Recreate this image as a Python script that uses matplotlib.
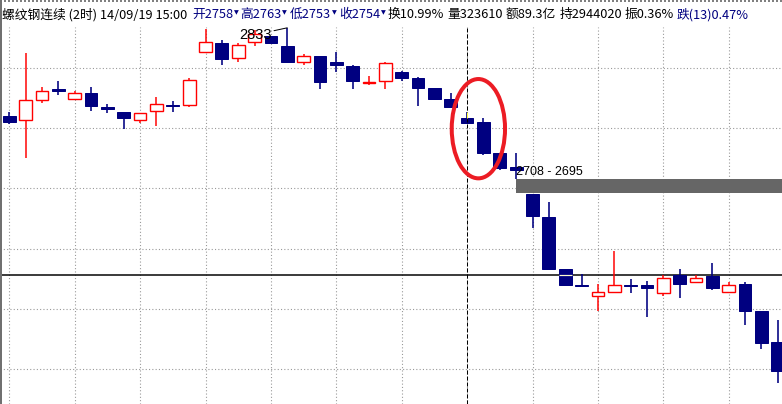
#!/usr/bin/env python3
"""
螺纹钢连续 2h candles, cursor on the 14/09/19 15:00 bar, unfilled gap band
"""
import matplotlib
matplotlib.use("Agg")
import matplotlib.pyplot as plt
from matplotlib.lines import Line2D
from matplotlib.patches import Rectangle, Ellipse

# OHLC of each 2h bar
opens = [2760, 2757, 2773, 2782, 2774, 2779, 2767, 2763, 2757, 2764, 2769, 2769,
         2813, 2820, 2808, 2821, 2826, 2818, 2805, 2810, 2805, 2801, 2787, 2789,
         2796, 2791, 2783, 2774, 2758, 2755, 2729, 2718, 2695, 2676, 2633, 2620,
         2611, 2614, 2620, 2620, 2613, 2628, 2622, 2627, 2614, 2621, 2598, 2573]
highs = [2763, 2812, 2784, 2789, 2781, 2784, 2770, 2763, 2762, 2776, 2772, 2791,
         2832, 2823, 2820, 2831, 2826, 2833, 2811, 2810, 2813, 2802, 2793, 2805,
         2797, 2792, 2783, 2779, 2763, 2758, 2729, 2729, 2695, 2689, 2633, 2629,
         2621, 2648, 2625, 2623, 2628, 2633, 2628, 2638, 2622, 2622, 2598, 2591]
lows = [2753, 2725, 2771, 2777, 2773, 2764, 2762, 2749, 2754, 2752, 2763, 2767,
        2813, 2802, 2805, 2818, 2820, 2804, 2802, 2782, 2796, 2782, 2786, 2782,
        2789, 2768, 2773, 2767, 2753, 2728, 2715, 2708, 2667, 2632, 2620, 2619,
        2598, 2614, 2613, 2593, 2611, 2609, 2622, 2616, 2614, 2587, 2567, 2539]
closes = [2755, 2773, 2781, 2781, 2779, 2768, 2766, 2758, 2762, 2770, 2768, 2790,
          2821, 2807, 2819, 2828, 2820, 2805, 2810, 2788, 2802, 2789, 2788, 2804,
          2791, 2783, 2774, 2767, 2754, 2729, 2717, 2715, 2677, 2633, 2620, 2619,
          2614, 2620, 2619, 2617, 2626, 2621, 2626, 2617, 2620, 2598, 2572, 2549]

price_grid = [2550, 2600, 2650, 2700, 2750, 2800]
ref_price = 2628
cursor_bar = 28
gap_bar = 31          # gap opens between this bar and the next one
symbol = "螺纹钢连续 (2时) 14/09/19 15:00"
turnover = "10.99%"
volume = "323610"
amount = "89.3亿"
open_int = "2944020"

NAVY = "#000080"
RED = "#ff0000"
GRID = "#999999"

W, H = 782, 404
TOP = 27              # px taken by the info line
STEP = 16.35          # px between bars
X0 = 9.3              # px of bar 0
PPU = 1.2067          # px per price point
Y2700 = 188.3         # px of the 2700 grid line

fig = plt.figure(figsize=(W / 100, H / 100), dpi=100)
ax = fig.add_axes([0, 0, 1, (H - TOP) / H])
ax.set_xlim(-X0 / STEP, (W - X0) / STEP)
ytop = 2700 + (Y2700 - TOP) / PPU
ax.set_ylim(ytop - (H - TOP) / PPU, ytop)
ax.axis("off")

px = 0.72  # one pixel in points

# dotted grid every 4 bars / 50 points
for i in range(0, len(opens), 4):
    ax.axvline(i, color=GRID, lw=1.1 * px, ls=(0, (1, 2)), zorder=0)
for p in price_grid:
    ax.axhline(p, color=GRID, lw=1.1 * px, ls=(0, (1, 2)), zorder=0)

ax.axhline(ref_price, color="black", lw=1.5 * px, zorder=1)

bw = 0.78
for i, (o, h, l, c) in enumerate(zip(opens, highs, lows, closes)):
    if c >= o:
        lo, hi = o, c
        if h > hi:
            ax.vlines(i, hi, h, color=RED, lw=1.5 * px, zorder=2)
        if l < lo:
            ax.vlines(i, l, lo, color=RED, lw=1.5 * px, zorder=2)
        ax.add_patch(Rectangle((i - bw / 2, lo), bw, max(hi - lo, 0.3),
                               facecolor="white", edgecolor=RED, lw=1.4 * px, zorder=3))
    else:
        ax.vlines(i, l, h, color=NAVY, lw=1.6 * px, zorder=2)
        ax.add_patch(Rectangle((i - bw / 2, c), bw, o - c,
                               facecolor=NAVY, edgecolor=NAVY, lw=1.0 * px, zorder=3))
        if c < ref_price < o:
            # the reference line shows up light where it crosses a filled body
            ax.hlines(ref_price, i - bw / 2, i + bw / 2, color="#fffbd0", lw=1.2 * px, zorder=4)

# unfilled gap band
g_top = lows[gap_bar]
g_bot = highs[gap_bar + 1]
ax.add_patch(Rectangle((gap_bar, g_bot + 1.2), ax.get_xlim()[1] - gap_bar, g_top - g_bot - 1.5,
                       facecolor="#666666", edgecolor="none", zorder=2))
ax.annotate(f"{g_top} - {g_bot}", xy=(gap_bar, g_top), xytext=(0, 4), textcoords="offset pixels",
            ha="left", va="baseline", fontsize=9, family="Liberation Sans", zorder=6)

# highest high marker
hi_bar = max(range(len(highs)), key=lambda k: highs[k])
ax.annotate(f"{highs[hi_bar]}", xy=(hi_bar, highs[hi_bar]), xytext=(-16, -7), textcoords="offset pixels",
            ha="right", va="center", fontsize=10.5, family="Liberation Sans", zorder=6,
            arrowprops=dict(arrowstyle="-", color="black", lw=px, shrinkA=0, shrinkB=0))

# cursor
ax.axvline(cursor_bar, color="black", lw=px, ls=(0, (4, 2)), zorder=5)
cb_top = max(opens[cursor_bar], closes[cursor_bar])
ax.vlines(cursor_bar, cb_top, highs[cursor_bar], color="#ffff40", lw=px, zorder=6)

# hand-drawn red ring round the cursor bar and the next one
ax.add_patch(Ellipse((cursor_bar + 0.69, 2749.4), 3.26, 82.3, fill=False,
                     edgecolor="#ec1c24", lw=4 * px, zorder=7))

# info line
prev_c = closes[cursor_bar - 1]
chg = closes[cursor_bar] - prev_c
amp = (highs[cursor_bar] - lows[cursor_bar]) / prev_c * 100
pieces = [
    (symbol, "black", False),
    (f"开{opens[cursor_bar]}", NAVY, True),
    (f"高{highs[cursor_bar]}", NAVY, True),
    (f"低{lows[cursor_bar]}", NAVY, True),
    (f"收{closes[cursor_bar]}", NAVY, True),
    (f"换{turnover}", "black", False),
    (f"量{volume}", "black", False),
    (f"额{amount}", "black", False),
    (f"持{open_int}", "black", False),
    (f"振{amp:.2f}%", "black", False),
    (f"{'跌' if chg < 0 else '涨'}({abs(chg)}){abs(chg) / prev_c * 100:.2f}%", NAVY, False),
]
piece_x = [2, 192.7, 240.7, 290, 339, 388, 447.7, 506, 559.3, 625, 676.7]
fonts = ["Noto Sans CJK SC", "DejaVu Sans"]
renderer = fig.canvas.get_renderer()
ty = 1 - 14.5 / H
for (txt, col, mark), x in zip(pieces, piece_x):
    t = fig.text(x / W, ty, txt, color=col, fontsize=9.2, family=fonts, ha="left", va="center")
    if mark:
        xe = x + t.get_window_extent(renderer).width
        fig.text((xe + 0.5) / W, ty + 1.5 / H, "▼", color=NAVY, fontsize=4.5,
                 family="DejaVu Sans", ha="left", va="center")

# window frame
fig.add_artist(Line2D([0, 1], [1 - 1 / H] * 2, transform=fig.transFigure,
                      color="#808080", lw=2 * px, ls=(0, (1, 1))))
fig.add_artist(Line2D([1 / W] * 2, [0, 1], transform=fig.transFigure,
                      color="#707070", lw=2 * px))

plt.savefig("out.png", dpi=100)
